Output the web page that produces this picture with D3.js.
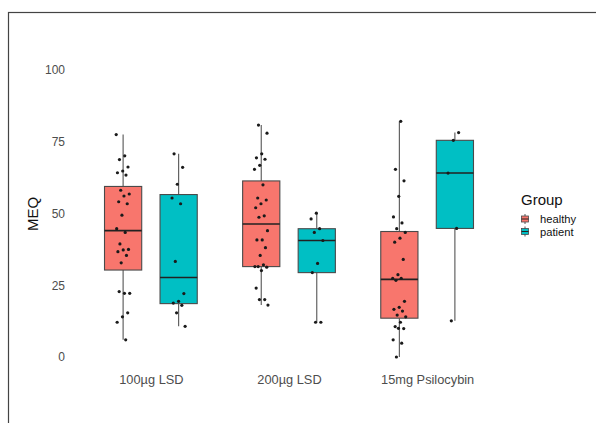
<!DOCTYPE html>
<html>
<head>
<meta charset="utf-8">
<script src="https://cdn.jsdelivr.net/npm/d3@7"></script>
<style>
  html, body { margin: 0; padding: 0; background: #fff; }
  svg { display: block; font-family: "Liberation Sans", Arial, sans-serif; }
</style>
</head>
<body>
<svg id="chart" width="596" height="423"></svg>
<script>
// ---- data ----
const categories = ["100µg LSD", "200µg LSD", "15mg Psilocybin"];
const groups = ["healthy", "patient"];
const groupColors = ["#F8766D", "#00BFC4"];
const yTicks = [0, 25, 50, 75, 100];

const lsd100Healthy = [77.5, 70.1, 68.8, 66.2, 64.8, 64.2, 63.4, 58.1, 56.8, 56.1, 54.1, 53.4, 49.4, 44.7,
  43.4, 39.4, 37.5, 37.3, 36.7, 35.4, 32.8, 22.2, 22.2, 22.8, 15.4, 14.0, 12.1, 6.0];
const lsd100Patient = [70.8, 66.1, 60.2, 55.4, 53.4, 33.3, 22.1, 19.4, 18.8, 18.0, 15.4, 10.7];
const lsd200Healthy = [80.8, 78.0, 70.8, 69.4, 68.9, 66.8, 65.4, 60.0, 55.4, 54.7, 53.4, 52.0, 49.2, 48.7,
  44.0, 40.8, 40.8, 38.1, 35.4, 31.5, 32.1, 31.5, 31.3, 30.1, 24.0, 20.0, 20.0, 18.1];
const lsd200Patient = [50.1, 48.1, 44.7, 43.4, 40.6, 32.6, 29.4, 12.1, 12.1];
const psiHealthy = [82.1, 65.4, 61.4, 56.0, 48.8, 46.7, 44.7, 43.4, 41.4, 40.0, 34.0, 28.7, 27.4, 27.4,
  26.7, 19.4, 17.3, 16.6, 16.0, 14.6, 14.0, 12.1, 10.6, 9.9, 10.0, 6.0, 4.8, 0];
const psiPatient = [78.2, 75.5, 64.1, 44.8, 12.6];

const seriesByCategory = [
  [lsd100Healthy, lsd100Patient],
  [lsd200Healthy, lsd200Patient],
  [psiHealthy, psiPatient]
];

// ---- drawing ----
const svg = d3.select("#chart");
const W = 596, H = 423;

// figure frame
svg.append("rect").attr("x", 8.5).attr("y", 12.5).attr("width", W + 10).attr("height", H + 10)
  .attr("fill", "none").attr("stroke", "#444").attr("stroke-width", 1.2);

const x = d3.scalePoint().domain(categories).range([68, 510]).padding(0.6);
const step = x.step();
const y = d3.scaleLinear().domain([0, 100]).range([357, 70]);
const dodge = d3.scaleBand().domain(groups).range([-0.4 * step, 0.4 * step]).paddingInner(0.33).paddingOuter(0.16);
const boxW = dodge.bandwidth();

// y axis (labels only)
const yAxis = d3.axisLeft(y).tickValues(yTicks).tickSize(0).tickPadding(0);
const gy = svg.append("g").attr("transform", "translate(65,0)").call(yAxis);
gy.select(".domain").remove();
gy.selectAll("text").attr("font-size", 12).attr("fill", "#4d4d4d")
  .attr("font-family", "Liberation Sans, Arial, sans-serif");

// x axis (labels only)
const xAxis = d3.axisBottom(x).tickSize(0).tickPadding(0);
const gx = svg.append("g").attr("transform", "translate(0,375)").call(xAxis);
gx.select(".domain").remove();
gx.selectAll("text").attr("font-size", 12.8).attr("fill", "#4d4d4d")
  .attr("font-family", "Liberation Sans, Arial, sans-serif");

// y title
svg.append("text").attr("transform", "translate(38,214) rotate(-90)")
  .attr("text-anchor", "middle").attr("font-size", 15).attr("fill", "#111").text("MEQ");

function stats(vals) {
  const s = vals.slice().sort(d3.ascending);
  const q1 = d3.quantile(s, 0.25), med = d3.quantile(s, 0.5), q3 = d3.quantile(s, 0.75);
  const iqr = q3 - q1;
  const lo = d3.min(s.filter(v => v >= q1 - 1.5 * iqr));
  const hi = d3.max(s.filter(v => v <= q3 + 1.5 * iqr));
  return { q1, med, q3, lo, hi };
}

const plot = svg.append("g");
categories.forEach((cat, ci) => {
  groups.forEach((grp, gi) => {
    const vals = seriesByCategory[ci][gi];
    const st = stats(vals);
    const cx = x(cat) + dodge(grp) + boxW / 2;
    const g = plot.append("g");
    // whiskers
    g.append("line").attr("x1", cx).attr("x2", cx).attr("y1", y(st.hi)).attr("y2", y(st.q3))
      .attr("stroke", "#555").attr("stroke-width", 1.1);
    g.append("line").attr("x1", cx).attr("x2", cx).attr("y1", y(st.q1)).attr("y2", y(st.lo))
      .attr("stroke", "#555").attr("stroke-width", 1.1);
    // box
    g.append("rect").attr("x", cx - boxW / 2).attr("y", y(st.q3))
      .attr("width", boxW).attr("height", y(st.q1) - y(st.q3))
      .attr("fill", groupColors[gi]).attr("stroke", "#4a4a4a").attr("stroke-width", 1.1);
    // median
    g.append("line").attr("x1", cx - boxW / 2).attr("x2", cx + boxW / 2)
      .attr("y1", y(st.med)).attr("y2", y(st.med))
      .attr("stroke", "#222").attr("stroke-width", 1.6);
  });
});

// jittered points (deterministic low-discrepancy jitter)
categories.forEach((cat, ci) => {
  groups.forEach((grp, gi) => {
    const vals = seriesByCategory[ci][gi];
    const cx = x(cat) + dodge(grp) + boxW / 2;
    plot.append("g").selectAll("circle").data(vals).join("circle")
      .attr("cx", (d, i) => cx + (((i * 0.6180339 + ci * 0.3 + gi * 0.17) % 1) * 2 - 1) * 0.05 * step)
      .attr("cy", d => y(d))
      .attr("r", 1.6)
      .attr("fill", "#1a1a1a");
  });
});

// legend
const leg = svg.append("g");
leg.append("text").attr("x", 521).attr("y", 205).attr("font-size", 15).attr("fill", "#111").text("Group");
groups.forEach((grp, gi) => {
  const cy = 219 + gi * 12.5;
  const kx = 525;
  leg.append("line").attr("x1", kx).attr("x2", kx).attr("y1", cy - 5).attr("y2", cy + 5)
    .attr("stroke", "#555").attr("stroke-width", 1);
  leg.append("rect").attr("x", kx - 3.5).attr("y", cy - 3).attr("width", 7).attr("height", 6)
    .attr("fill", groupColors[gi]).attr("stroke", "#4a4a4a").attr("stroke-width", 0.8);
  leg.append("line").attr("x1", kx - 3.5).attr("x2", kx + 3.5).attr("y1", cy).attr("y2", cy)
    .attr("stroke", "#222").attr("stroke-width", 1);
  leg.append("text").attr("x", 540).attr("y", cy + 4).attr("font-size", 11.2).attr("fill", "#111").text(grp);
});
</script>
</body>
</html>
